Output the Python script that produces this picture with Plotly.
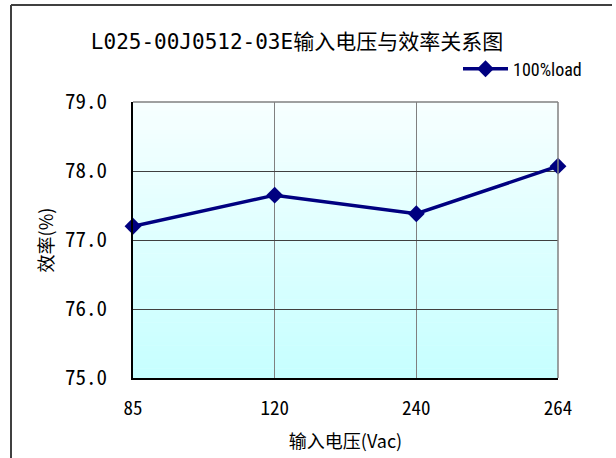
import plotly.graph_objects as go

# ---- data ----
voltages = ["85", "120", "240", "264"]
efficiency = [77.2, 77.65, 77.38, 78.07]
series_name = "100%load"
y_ticks = [75.0, 76.0, 77.0, 78.0, 79.0]
y_tick_labels = ["75.0", "76.0", "77.0", "78.0", "79.0"]
title_text = "L025-00J0512-03E输入电压与效率关系图"
x_title = "输入电压(Vac)"
y_title = "效率(%)"

W, H = 616, 458
L, R, T, B = 133, 58, 102, 80

MONO = "Noto Sans Mono CJK SC, DejaVu Sans Mono, monospace"
TITLE_FONT = "DejaVu Sans Mono, Noto Sans CJK SC, monospace"
CJK = "Noto Sans CJK SC, DejaVu Sans, sans-serif"

fig = go.Figure()
fig.add_trace(go.Scatter(
    x=voltages, y=efficiency, mode="lines+markers", name=series_name,
    line=dict(color="#000080", width=3.5),
    marker=dict(symbol="diamond", size=13, color="#000080"),
    cliponaxis=False,
))

# gradient background of plot area
shapes = []
n = 60
top = (0xF7, 0xFF, 0xFF)
bot = (0xC6, 0xFF, 0xFF)
for i in range(n):
    f = (i + 0.5) / n
    c = tuple(round(bot[k] + (top[k] - bot[k]) * f) for k in range(3))
    shapes.append(dict(type="rect", xref="x domain", yref="y domain",
                       x0=0, x1=1, y0=i / n, y1=(i + 1) / n + 0.002,
                       fillcolor="rgb(%d,%d,%d)" % c, line=dict(width=0),
                       layer="below"))
# top and right plot border (gray)
shapes.append(dict(type="line", xref="x domain", yref="y domain", x0=0, x1=1, y0=1, y1=1,
                   line=dict(color="#808080", width=1.5), layer="above"))
shapes.append(dict(type="line", xref="x domain", yref="y domain", x0=1, x1=1, y0=0, y1=1,
                   line=dict(color="#808080", width=1.5), layer="above"))
# outer chart border (left and top visible)
px = lambda x: (x - L) / (W - L - R)
py = lambda y: (H - B - y) / (H - T - B)
shapes.append(dict(type="line", xref="paper", yref="paper", x0=px(11), x1=px(11), y0=py(5), y1=py(470),
                   line=dict(color="#404040", width=2)))
shapes.append(dict(type="line", xref="paper", yref="paper", x0=px(11), x1=px(612), y0=py(5), y1=py(5),
                   line=dict(color="#404040", width=2)))

fig.update_layout(
    width=W, height=H,
    margin=dict(l=L, r=R, t=T, b=B, autoexpand=False),
    paper_bgcolor="white", plot_bgcolor="white",
    shapes=shapes,
    title=dict(text=title_text, x=297 / W, xref="container", xanchor="center",
               y=1 - 42 / H, yref="container", yanchor="middle",
               font=dict(family=TITLE_FONT, size=21, color="#000000")),
    showlegend=True,
    legend=dict(x=px(458), y=py(69), xanchor="left", yanchor="middle",
                bgcolor="rgba(0,0,0,0)", itemwidth=45,
                font=dict(family="Liberation Sans Narrow, Roboto Condensed, Liberation Sans, sans-serif",
                          size=18, color="#000000")),
    xaxis=dict(type="category", range=[0, 3], showgrid=True, gridcolor="#808080", gridwidth=1,
               showline=True, linecolor="#000000", linewidth=1.5, ticks="",
               tickfont=dict(family=MONO, size=19, color="#000000"),
               ticklabelstandoff=12,
               title=dict(text=x_title, font=dict(family=CJK, size=18, color="#000000"), standoff=17)),
    yaxis=dict(range=[75, 79], tickvals=y_ticks, ticktext=y_tick_labels,
               showgrid=True, gridcolor="#404040", gridwidth=1, zeroline=False,
               showline=True, linecolor="#000000", linewidth=1.5, ticks="",
               tickfont=dict(family=MONO, size=21, color="#000000"),
               ticklabelstandoff=20,
               title=dict(text=y_title, font=dict(family=CJK, size=18, color="#000000"), standoff=7)),
)

fig.write_html("out.html", config={"displayModeBar": False},
               post_script="document.body.style.margin='0px';")
